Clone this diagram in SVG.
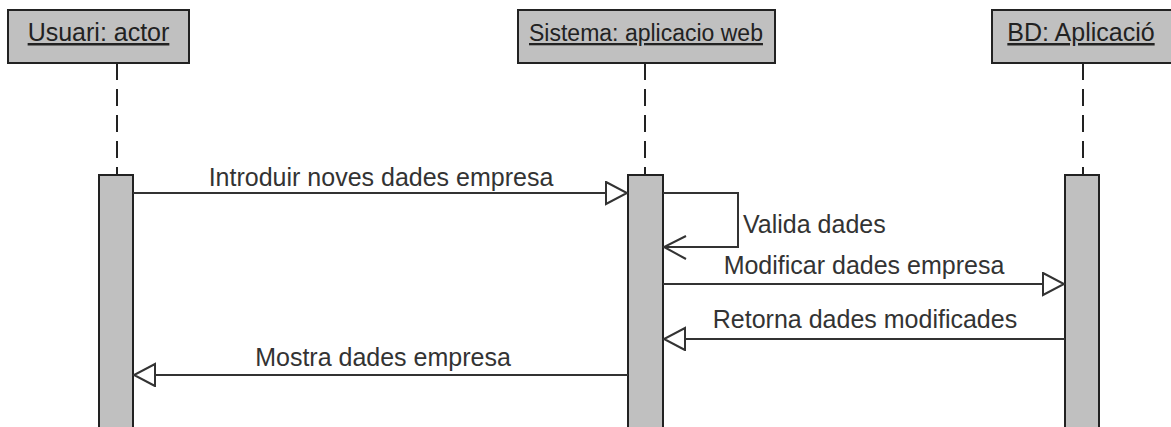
<svg xmlns="http://www.w3.org/2000/svg" width="1171" height="427" viewBox="0 0 1171 427">
<style>
.box{fill:#c0c0c0;stroke:#222;stroke-width:2}
.bar{fill:#c0c0c0;stroke:#222;stroke-width:2}
.life{stroke:#222;stroke-width:2;stroke-dasharray:17 9;fill:none}
.msg{stroke:#333;stroke-width:2;fill:none}
.lbl{font-family:"Liberation Sans",Arial,sans-serif;font-size:25px;fill:#333}
.hd{font-family:"Liberation Sans",Arial,sans-serif;font-size:25px;fill:#222;text-decoration:underline}
</style>
<defs>
<marker id="tri" markerUnits="userSpaceOnUse" markerWidth="26" markerHeight="28" refX="22" refY="12" orient="auto">
<polygon points="1,1 22,12 1,23" fill="#fff" stroke="#333" stroke-width="2"/>
</marker>
</defs>
<g id="usuari">
<line class="life" x1="117" y1="63" x2="117" y2="175"/>
<rect class="box" x="8" y="10" width="181" height="53"/>
<text class="hd" x="98.5" y="41" text-anchor="middle">Usuari: actor</text>
<rect class="bar" x="99" y="175" width="34" height="270"/>
</g>
<g id="sistema">
<line class="life" x1="645" y1="63" x2="645" y2="175"/>
<rect class="box" x="518" y="10" width="257" height="53"/>
<text class="hd" x="646" y="41" text-anchor="middle" style="font-size:23px">Sistema: aplicacio web</text>
<rect class="bar" x="628" y="175" width="35" height="270"/>
</g>
<g id="bd">
<line class="life" x1="1083" y1="63" x2="1083" y2="175"/>
<rect class="box" x="992" y="10" width="184" height="53"/>
<text class="hd" x="1081" y="41" text-anchor="middle">BD: Aplicació</text>
<rect class="bar" x="1065" y="175" width="34" height="270"/>
</g>
<g id="connectors">
<line class="msg" x1="133" y1="193" x2="627" y2="193" marker-end="url(#tri)"/>
<text class="lbl" x="381" y="186" text-anchor="middle">Introduir noves dades empresa</text>
<polyline class="msg" points="663,193 738,193 738,247 664,247"/>
<polyline class="msg" points="686,236 664,247 686,259"/>
<text class="lbl" x="743" y="233">Valida dades</text>
<line class="msg" x1="663" y1="284" x2="1064" y2="284" marker-end="url(#tri)"/>
<text class="lbl" x="864" y="274" text-anchor="middle">Modificar dades empresa</text>
<line class="msg" x1="1065" y1="339" x2="664" y2="339" marker-end="url(#tri)"/>
<text class="lbl" x="865" y="328" text-anchor="middle">Retorna dades modificades</text>
<line class="msg" x1="628" y1="375" x2="134" y2="375" marker-end="url(#tri)"/>
<text class="lbl" x="383" y="366" text-anchor="middle">Mostra dades empresa</text>
</g>
</svg>
